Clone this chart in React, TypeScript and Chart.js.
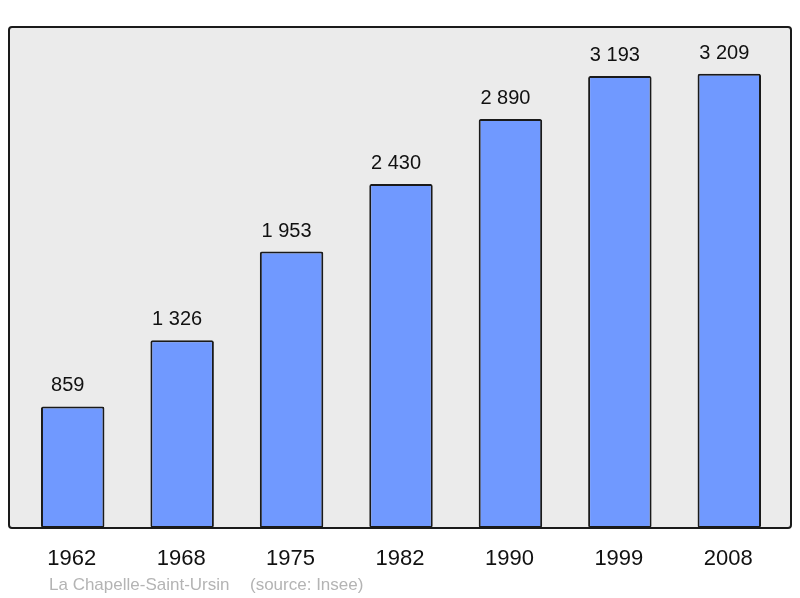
import React, { useEffect, useRef } from "react";
import { Chart, registerables } from "chart.js";

Chart.register(...registerables);

const years: string[] = ["1962", "1968", "1975", "1982", "1990", "1999", "2008"];
const population: number[] = [859, 1326, 1953, 2430, 2890, 3193, 3209];
const yMax = 3540;
const communeName = "La Chapelle-Saint-Ursin";
const sourceText = "(source: Insee)";

const FONT = "'Liberation Sans', Arial, sans-serif";

function fmt(n: number): string {
  return String(n).replace(/\B(?=(\d{3})+(?!\d))/g, " ");
}

function roundRect(ctx: CanvasRenderingContext2D, x: number, y: number, w: number, h: number, r: number) {
  ctx.beginPath();
  ctx.moveTo(x + r, y);
  ctx.lineTo(x + w - r, y);
  ctx.quadraticCurveTo(x + w, y, x + w, y + r);
  ctx.lineTo(x + w, y + h - r);
  ctx.quadraticCurveTo(x + w, y + h, x + w - r, y + h);
  ctx.lineTo(x + r, y + h);
  ctx.quadraticCurveTo(x, y + h, x, y + h - r);
  ctx.lineTo(x, y + r);
  ctx.quadraticCurveTo(x, y, x + r, y);
  ctx.closePath();
}

const decorPlugin = {
  id: "decor",
  beforeDatasetsDraw(chart: any) {
    const { ctx, chartArea } = chart;
    const x0 = chartArea.left - 9;
    const x1 = chartArea.right + 7;
    ctx.save();
    roundRect(ctx, x0, chartArea.top, x1 - x0, chartArea.bottom - chartArea.top, 3);
    ctx.fillStyle = "#ebebeb";
    ctx.fill();
    ctx.restore();
  },
  afterDatasetsDraw(chart: any) {
    const { ctx, chartArea } = chart;
    const xScale = chart.scales.x;
    const yScale = chart.scales.y;
    const x0 = chartArea.left - 9;
    const x1 = chartArea.right + 7;
    ctx.save();
    roundRect(ctx, x0, chartArea.top, x1 - x0, chartArea.bottom - chartArea.top, 3);
    ctx.lineWidth = 2;
    ctx.strokeStyle = "#1a1a1a";
    ctx.stroke();

    ctx.textAlign = "center";
    ctx.textBaseline = "alphabetic";
    ctx.fillStyle = "#111";
    ctx.font = `20px ${FONT}`;
    population.forEach((v, i) => {
      const x = xScale.getPixelForValue(i);
      const y = yScale.getPixelForValue(v);
      ctx.fillText(fmt(v), x - 5, y - 15);
    });

    ctx.font = `22px ${FONT}`;
    years.forEach((yr, i) => {
      const x = xScale.getPixelForValue(i);
      ctx.fillText(yr, x - 1, chartArea.bottom + 37);
    });

    ctx.textAlign = "left";
    ctx.font = `17px ${FONT}`;
    ctx.fillStyle = "#b4b4b4";
    ctx.fillText(communeName, 49, chartArea.bottom + 62);
    ctx.fillText(sourceText, 250, chartArea.bottom + 62);
    ctx.restore();
  },
};

export default function App() {
  const ref = useRef<HTMLCanvasElement | null>(null);
  useEffect(() => {
    if (!ref.current) return;
    const chart = new Chart(ref.current, {
      type: "bar",
      data: {
        labels: years,
        datasets: [
          {
            data: population,
            backgroundColor: "#7099ff",
            borderColor: "#1a1a1a",
            borderWidth: 2,
            borderRadius: 2,
            borderSkipped: false,
            barPercentage: 0.58,
            categoryPercentage: 1,
          },
        ],
      },
      options: {
        animation: false,
        responsive: false,
        devicePixelRatio: 1,
        layout: { padding: { left: 18, right: 16, top: 27, bottom: 70 } },
        plugins: { legend: { display: false }, tooltip: { enabled: false } },
        scales: {
          x: { display: false, offset: true },
          y: { display: false, min: 0, max: yMax },
        },
      },
      plugins: [decorPlugin],
    });
    return () => chart.destroy();
  }, []);
  return (
    <div style={{ position: "fixed", left: 0, top: 0, width: 800, height: 598, background: "#fff" }}>
      <canvas ref={ref} width={800} height={598} style={{ width: 800, height: 598, display: "block" }} />
    </div>
  );
}
